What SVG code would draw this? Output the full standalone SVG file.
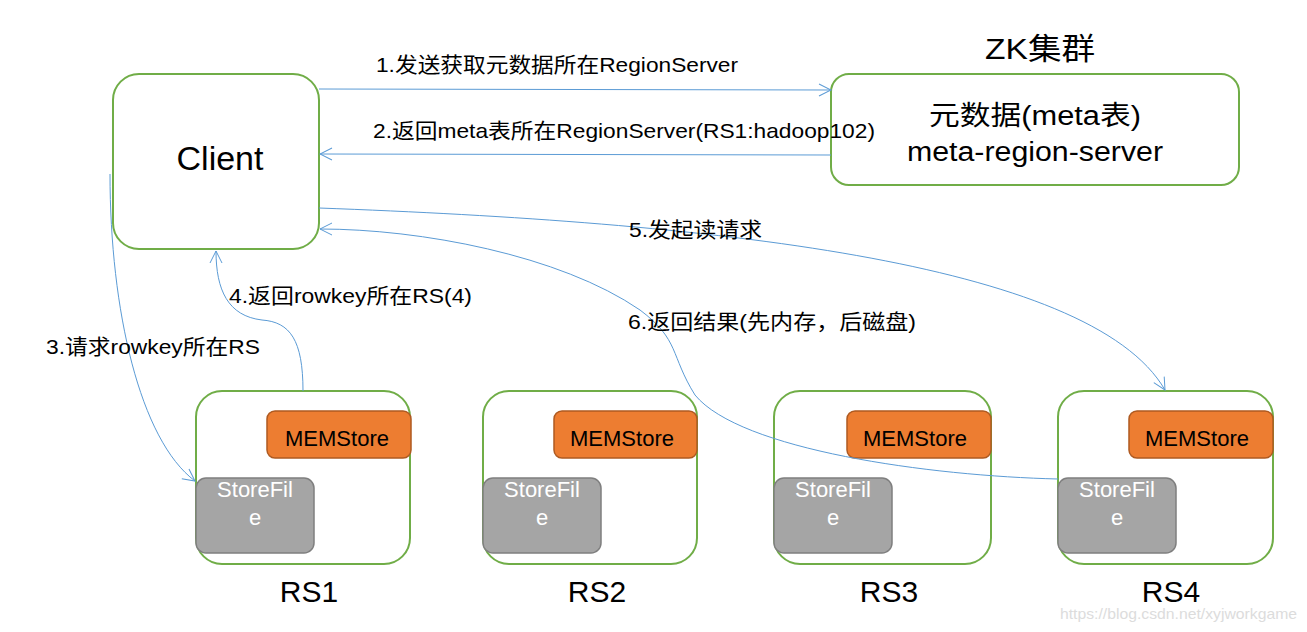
<svg xmlns="http://www.w3.org/2000/svg" width="1307" height="632" viewBox="0 0 1307 632">
<defs>
<marker id="arr" markerWidth="14" markerHeight="14" refX="13" refY="7" orient="auto" markerUnits="userSpaceOnUse">
<path d="M1,1 L13,7 L1,13" fill="none" stroke="#5B9BD5" stroke-width="1"/>
</marker>
<style>
text{font-family:"Liberation Sans","Noto Sans CJK SC",sans-serif;fill:#000}
.box{fill:#fff;stroke:#70AD47;stroke-width:2}
.mem{fill:#ED7D31;stroke:#AE5A21;stroke-width:1.5}
.sf{fill:#A5A5A5;stroke:#7F7F7F;stroke-width:1.5}
.memt{font-size:22px;text-anchor:middle}
.sft{font-size:22px;text-anchor:middle;fill:#fff}
.rs{font-size:30px;text-anchor:middle}
.lbl{font-size:21px}
.c{fill:none;stroke:#5B9BD5;stroke-width:1;marker-end:url(#arr)}
</style>
</defs>
<rect width="1307" height="632" fill="#fff"/>
<g id="client">
<rect class="box" x="113" y="74" width="206" height="175" rx="26"/>
<text x="220" y="170" font-size="34" text-anchor="middle">Client</text>
</g>
<g id="zk">
<text x="1040" y="59" font-size="30" text-anchor="middle" textLength="110" lengthAdjust="spacingAndGlyphs">ZK集群</text>
<rect class="box" x="831" y="74" width="408" height="111" rx="18"/>
<text x="1035" y="125" font-size="27" text-anchor="middle" textLength="212" lengthAdjust="spacingAndGlyphs">元数据(meta表)</text>
<text x="1035" y="161" font-size="27" text-anchor="middle" textLength="256" lengthAdjust="spacingAndGlyphs">meta-region-server</text>
</g>
<g id="rs1">
<rect class="box" x="196" y="391" width="214" height="173" rx="26"/>
<rect class="mem" x="267" y="411" width="144" height="47" rx="8"/>
<text class="memt" x="337" y="446">MEMStore</text>
<rect class="sf" x="196" y="478" width="118" height="75" rx="10"/>
<text class="sft" x="255" y="497">StoreFil</text>
<text class="sft" x="255" y="525">e</text>
<text class="rs" x="309" y="602">RS1</text>
</g>
<g id="rs2">
<rect class="box" x="483" y="391" width="214" height="173" rx="26"/>
<rect class="mem" x="554" y="411" width="143" height="47" rx="8"/>
<text class="memt" x="622" y="446">MEMStore</text>
<rect class="sf" x="483" y="478" width="118" height="75" rx="10"/>
<text class="sft" x="542" y="497">StoreFil</text>
<text class="sft" x="542" y="525">e</text>
<text class="rs" x="597" y="602">RS2</text>
</g>
<g id="rs3">
<rect class="box" x="774" y="391" width="217" height="173" rx="26"/>
<rect class="mem" x="847" y="411" width="144" height="47" rx="8"/>
<text class="memt" x="915" y="446">MEMStore</text>
<rect class="sf" x="774" y="478" width="118" height="75" rx="10"/>
<text class="sft" x="833" y="497">StoreFil</text>
<text class="sft" x="833" y="525">e</text>
<text class="rs" x="889" y="602">RS3</text>
</g>
<g id="rs4">
<rect class="box" x="1058" y="391" width="215" height="173" rx="26"/>
<rect class="mem" x="1129" y="411" width="144" height="47" rx="8"/>
<text class="memt" x="1197" y="446">MEMStore</text>
<rect class="sf" x="1058" y="478" width="118" height="75" rx="10"/>
<text class="sft" x="1117" y="497">StoreFil</text>
<text class="sft" x="1117" y="525">e</text>
<text class="rs" x="1171" y="602">RS4</text>
</g>
<g id="connectors">
<path class="c" d="M319,89 L831,90"/>
<path class="c" d="M831,155 L320,154"/>
<path class="c" d="M110,174 C110,310 140,440 195,481"/>
<path class="c" d="M303,391 C303,340 290,322 262,320 C228,316 216,290 216,251"/>
<path class="c" d="M319,208 C700,222 1090,260 1165,390"/>
<path class="c" d="M1058,479 C930,476 740,450 695,395 C670,355 680,340 640,310 C560,255 420,229 320,229"/>
</g>
<g id="labels">
<text class="lbl" x="376" y="72" textLength="362" lengthAdjust="spacingAndGlyphs">1.发送获取元数据所在RegionServer</text>
<text class="lbl" x="373" y="138" textLength="502" lengthAdjust="spacingAndGlyphs">2.返回meta表所在RegionServer(RS1:hadoop102)</text>
<text class="lbl" x="46" y="354" textLength="214" lengthAdjust="spacingAndGlyphs">3.请求rowkey所在RS</text>
<text class="lbl" x="229" y="303" textLength="243" lengthAdjust="spacingAndGlyphs">4.返回rowkey所在RS(4)</text>
<text class="lbl" x="629" y="237" textLength="133" lengthAdjust="spacingAndGlyphs">5.发起读请求</text>
<text class="lbl" x="628" y="329" textLength="288" lengthAdjust="spacingAndGlyphs">6.返回结果(先内存，后磁盘)</text>
<text x="1297" y="619" font-size="15" text-anchor="end" textLength="237" lengthAdjust="spacingAndGlyphs" style="fill:#dcdcdc">https://blog.csdn.net/xyjworkgame</text>
</g>
</svg>
